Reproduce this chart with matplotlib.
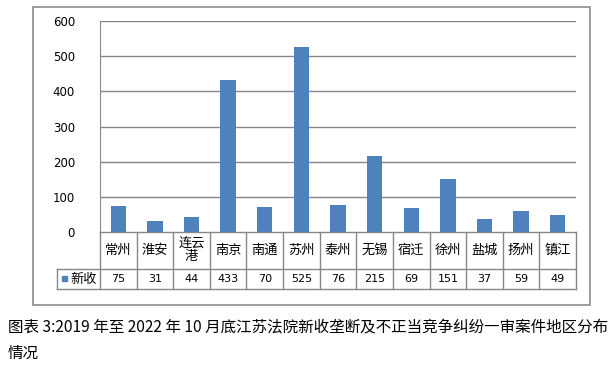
import numpy as np
import matplotlib.pyplot as plt

plt.rcParams['font.family'] = ['Noto Sans CJK SC', 'DejaVu Sans']

# data
cities = ['常州', '淮安', '连云\n港', '南京', '南通', '苏州', '泰州', '无锡', '宿迁', '徐州', '盐城', '扬州', '镇江']
new_cases = [75, 31, 44, 433, 70, 525, 76, 215, 69, 151, 37, 59, 49]
yticks = [0, 100, 200, 300, 400, 500, 600]
series_name = '新收'
caption1 = '图表 3:2019 年至 2022 年 10 月底江苏法院新收垄断及不正当竞争纠纷一审案件地区分布'
caption2 = '情况'

W, H = 615, 373
bar_color = '#4F81BD'
grid_color = '#878787'

fig = plt.figure(figsize=(W / 100, H / 100), dpi=100)

# layout in pixels
plot_l, plot_r = 100, 576
plot_t, plot_b = 21, 232
row1_b, row2_b = 269, 289
legend_l = 57

# overlay axes in pixel coords for borders, table and caption
bg = fig.add_axes([0, 0, 1, 1])
bg.set_xlim(0, W)
bg.set_ylim(H, 0)
bg.axis('off')

# outer chart border
bg.add_patch(plt.Rectangle((33, 7), 557, 298, fill=False, edgecolor='#8c8c8c', lw=1.2))

# bar chart
ax = fig.add_axes([plot_l / W, 1 - plot_b / H, (plot_r - plot_l) / W, (plot_b - plot_t) / H])
x = np.arange(len(cities))
ax.bar(x, new_cases, width=0.42, color=bar_color, zorder=3)
ax.set_xlim(-0.5, len(cities) - 0.5)
ax.set_ylim(0, 600)
ax.set_yticks(yticks)
ax.set_yticklabels([str(v) for v in yticks], fontsize=8.5, family='DejaVu Sans')
ax.set_xticks([])
ax.tick_params(axis='y', length=0, pad=18)
for v in yticks[1:]:
    ax.axhline(v, color=grid_color, lw=1, zorder=1)
for s in ['top', 'right', 'bottom']:
    ax.spines[s].set_visible(False)
ax.spines['left'].set_color(grid_color)
ax.patch.set_alpha(0)

# data table under the plot
col_w = (plot_r - plot_l) / len(cities)
lc = grid_color
bg.plot([plot_l, plot_r], [plot_b, plot_b], color=lc, lw=1)
bg.plot([legend_l, plot_r], [row1_b, row1_b], color=lc, lw=1)
bg.plot([legend_l, plot_r], [row2_b, row2_b], color=lc, lw=1)
bg.plot([legend_l, legend_l], [row1_b, row2_b], color=lc, lw=1)
for i in range(len(cities) + 1):
    xx = plot_l + i * col_w
    bg.plot([xx, xx], [plot_b, row2_b], color=lc, lw=1)

for i, (c, v) in enumerate(zip(cities, new_cases)):
    cx = plot_l + (i + 0.5) * col_w
    bg.text(cx, (plot_b + row1_b) / 2, c, ha='center', va='center', fontsize=9.5, linespacing=0.95)
    bg.text(cx, (row1_b + row2_b) / 2, str(v), ha='center', va='center', fontsize=8, family='DejaVu Sans')

# legend key inside the table
bg.add_patch(plt.Rectangle((62, 276), 5, 5, color=bar_color))
bg.text(70, (row1_b + row2_b) / 2, series_name, ha='left', va='center', fontsize=9.5)

# caption
bg.text(8, 327, caption1, ha='left', va='center', fontsize=11.2)
bg.text(8, 353, caption2, ha='left', va='center', fontsize=11.2)

fig.savefig('out.png', dpi=100)
